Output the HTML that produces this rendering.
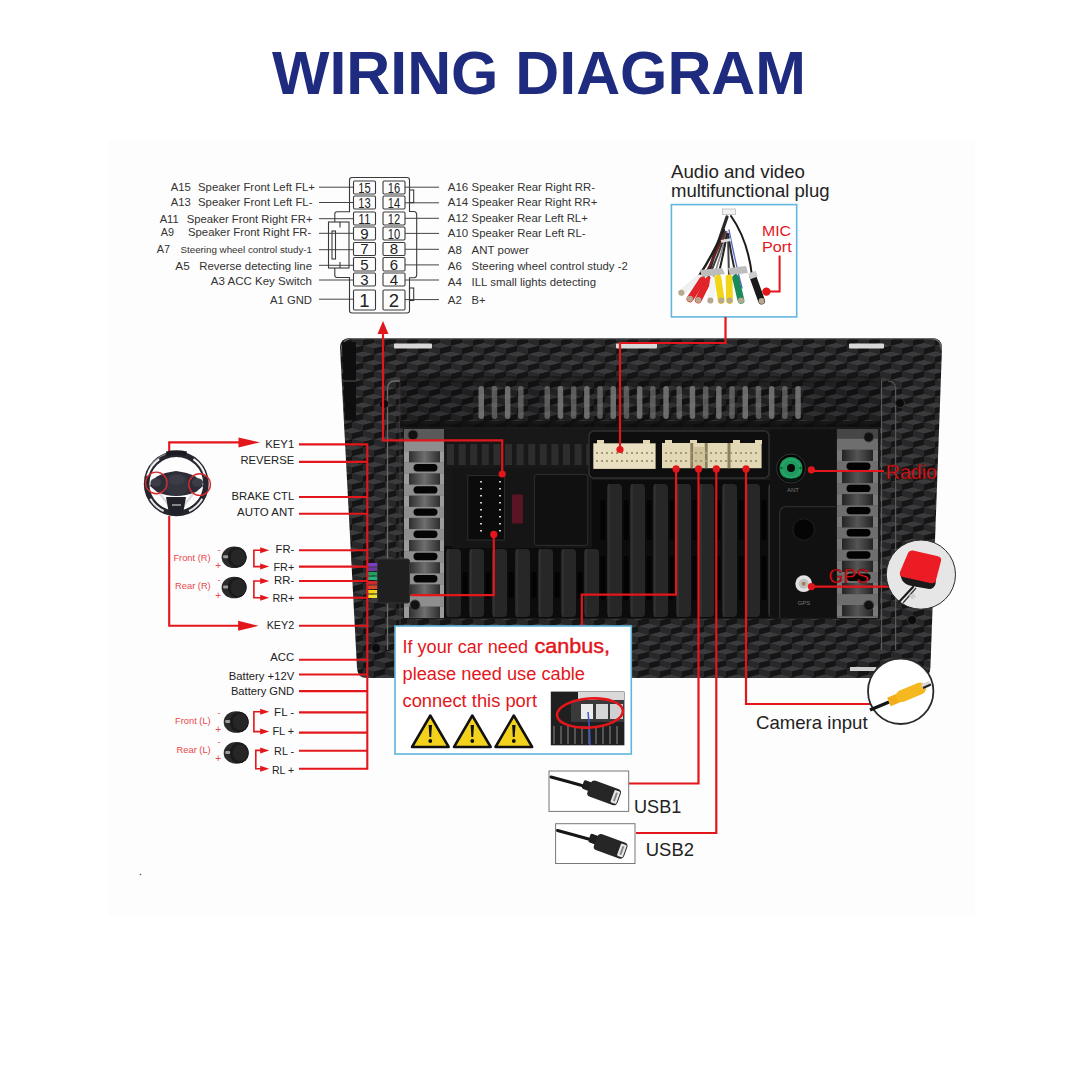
<!DOCTYPE html>
<html><head><meta charset="utf-8">
<style>
html,body{margin:0;padding:0;background:#fff;}
body{width:1080px;height:1080px;overflow:hidden;position:relative;}
svg{position:absolute;left:0;top:0;}
text{font-family:"Liberation Sans",sans-serif;}
</style></head>
<body>
<svg width="1080" height="1080" viewBox="0 0 1080 1080">
<defs>
  <pattern id="cf" x="0" y="0" width="22" height="17" patternUnits="userSpaceOnUse">
    <rect width="22" height="17" fill="#1c1c1d"/>
    <path d="M11 -5.67L22 -2.83L11 0L0 -2.83ZM11 11.33L22 14.16L11 17L0 14.16ZM0 2.83L11 5.67L0 8.5L-11 5.67ZM22 2.83L33 5.67L22 8.5L11 5.67Z" fill="#3b3b3d"/>
    <path d="M0 -2.83L11 0L11 5.67L0 2.83ZM0 14.16L11 17L11 22.67L0 19.84ZM-11 5.67L0 8.5L0 14.17L-11 11.34ZM11 5.67L22 8.5L22 14.17L11 11.34Z" fill="#28282a"/>
    <path d="M11 0L22 -2.83L22 2.83L11 5.67ZM11 17L22 14.16L22 19.84L11 22.67ZM0 8.5L11 5.67L11 11.34L0 14.17ZM22 8.5L33 5.67L33 11.34L22 14.17Z" fill="#151516"/>
  </pattern>
  <marker id="ar" viewBox="0 0 10 10" refX="10" refY="5" markerWidth="5" markerHeight="5" orient="auto" markerUnits="userSpaceOnUse">
    <path d="M0 0L10 5L0 10Z" fill="#e3161b"/>
  </marker>
</defs>
<rect x="108" y="140" width="867" height="776" fill="#fdfdfd"/>

<!-- TITLE -->
<text x="272" y="94" font-size="62" font-weight="bold" fill="#1f2b7e" textLength="534" lengthAdjust="spacingAndGlyphs">WIRING DIAGRAM</text>
<!-- PIN CONNECTOR -->
<text x="170.8" y="190.8" font-size="11.5" fill="#333" textLength="20.0" lengthAdjust="spacingAndGlyphs" >A15</text>
<text x="198" y="190.8" font-size="11.5" fill="#333" textLength="117.0" lengthAdjust="spacingAndGlyphs" >Speaker Front Left FL+</text>
<line x1="319" y1="187.2" x2="353" y2="187.2" stroke="#444" stroke-width="1"/>
<text x="170.8" y="205.5" font-size="11.5" fill="#333" textLength="20.0" lengthAdjust="spacingAndGlyphs" >A13</text>
<text x="198" y="205.5" font-size="11.5" fill="#333" textLength="114.5" lengthAdjust="spacingAndGlyphs" >Speaker Front Left FL-</text>
<line x1="319" y1="202.5" x2="353" y2="202.5" stroke="#444" stroke-width="1"/>
<text x="159.7" y="222.5" font-size="11.5" fill="#333" textLength="19.0" lengthAdjust="spacingAndGlyphs" >A11</text>
<text x="186.7" y="222.5" font-size="11.5" fill="#333" textLength="125.8" lengthAdjust="spacingAndGlyphs" >Speaker Front Right FR+</text>
<line x1="319" y1="218.7" x2="353" y2="218.7" stroke="#444" stroke-width="1"/>
<text x="160.8" y="235.8" font-size="11.5" fill="#333" textLength="13.2" lengthAdjust="spacingAndGlyphs" >A9</text>
<text x="188" y="235.8" font-size="11.5" fill="#333" textLength="123.3" lengthAdjust="spacingAndGlyphs" >Speaker Front Right FR-</text>
<line x1="319" y1="233.3" x2="353" y2="233.3" stroke="#444" stroke-width="1"/>
<text x="156.7" y="252.8" font-size="11.5" fill="#333" textLength="13.3" lengthAdjust="spacingAndGlyphs" >A7</text>
<text x="180.5" y="252.8" font-size="9.6" fill="#333" textLength="131.5" lengthAdjust="spacingAndGlyphs" >Steering wheel control study-1</text>
<line x1="319" y1="249.7" x2="353" y2="249.7" stroke="#444" stroke-width="1"/>
<text x="175.3" y="269.7" font-size="11.5" fill="#333" textLength="14.4" lengthAdjust="spacingAndGlyphs" >A5</text>
<text x="199.2" y="269.7" font-size="11.5" fill="#333" textLength="112.8" lengthAdjust="spacingAndGlyphs" >Reverse detecting line</text>
<line x1="319" y1="265.3" x2="353" y2="265.3" stroke="#444" stroke-width="1"/>
<text x="210.8" y="284.7" font-size="11.5" fill="#333" textLength="101.2" lengthAdjust="spacingAndGlyphs" >A3 ACC Key Switch</text>
<line x1="319" y1="280" x2="353" y2="280" stroke="#444" stroke-width="1"/>
<text x="270" y="304.2" font-size="11.5" fill="#333" textLength="42.0" lengthAdjust="spacingAndGlyphs" >A1 GND</text>
<line x1="319" y1="299.2" x2="353" y2="299.2" stroke="#444" stroke-width="1"/>
<text x="447.8" y="191" font-size="11.5" fill="#333" >A16</text>
<text x="471.6" y="191" font-size="11.5" fill="#333" textLength="123.4" lengthAdjust="spacingAndGlyphs" >Speaker Rear Right RR-</text>
<line x1="405" y1="187.2" x2="439" y2="187.2" stroke="#444" stroke-width="1"/>
<text x="447.8" y="205.7" font-size="11.5" fill="#333" >A14</text>
<text x="471.6" y="205.7" font-size="11.5" fill="#333" textLength="125.7" lengthAdjust="spacingAndGlyphs" >Speaker Rear Right RR+</text>
<line x1="405" y1="202.8" x2="439" y2="202.8" stroke="#444" stroke-width="1"/>
<text x="447.8" y="222.3" font-size="11.5" fill="#333" >A12</text>
<text x="471.6" y="222.3" font-size="11.5" fill="#333" textLength="116.2" lengthAdjust="spacingAndGlyphs" >Speaker Rear Left RL+</text>
<line x1="405" y1="218.3" x2="439" y2="218.3" stroke="#444" stroke-width="1"/>
<text x="447.8" y="237.2" font-size="11.5" fill="#333" >A10</text>
<text x="471.6" y="237.2" font-size="11.5" fill="#333" textLength="114.0" lengthAdjust="spacingAndGlyphs" >Speaker Rear Left RL-</text>
<line x1="405" y1="233.4" x2="439" y2="233.4" stroke="#444" stroke-width="1"/>
<text x="447.8" y="253.8" font-size="11.5" fill="#333" >A8</text>
<text x="471.6" y="253.8" font-size="11.5" fill="#333" textLength="57.3" lengthAdjust="spacingAndGlyphs" >ANT power</text>
<line x1="405" y1="249.3" x2="439" y2="249.3" stroke="#444" stroke-width="1"/>
<text x="447.8" y="270" font-size="11.5" fill="#333" >A6</text>
<text x="471.6" y="270" font-size="11.5" fill="#333" textLength="156.2" lengthAdjust="spacingAndGlyphs" >Steering wheel control study -2</text>
<line x1="405" y1="264.9" x2="439" y2="264.9" stroke="#444" stroke-width="1"/>
<text x="447.8" y="285.6" font-size="11.5" fill="#333" >A4</text>
<text x="471.6" y="285.6" font-size="11.5" fill="#333" textLength="124.4" lengthAdjust="spacingAndGlyphs" >ILL small lights detecting</text>
<line x1="405" y1="280" x2="439" y2="280" stroke="#444" stroke-width="1"/>
<text x="447.8" y="304.4" font-size="11.5" fill="#333" >A2</text>
<text x="471.6" y="304.4" font-size="11.5" fill="#333" textLength="14.0" lengthAdjust="spacingAndGlyphs" >B+</text>
<line x1="405" y1="299.6" x2="439" y2="299.6" stroke="#444" stroke-width="1"/>
<g fill="none" stroke="#3a3a3a" stroke-width="1.1">
<path d="M352 177.5 H407 Q409.5 177.5 409.5 180 V211.5 H413.5 Q416.7 211.5 416.7 215 V274.5 Q416.7 277.8 413.5 277.8 H409.5 V310.5 Q409.5 313 407 313 H352 Q349.5 313 349.5 310.5 V277.5 H337 Q334.8 277.5 334.8 275 V268"/>
<path d="M334.8 222 V214 Q334.8 211.7 337 211.7 H349.5 V180 Q349.5 177.5 352 177.5"/>
<rect x="353.5" y="181" width="22" height="13" rx="1.2"/>
<rect x="383" y="181" width="22" height="13" rx="1.2"/>
<rect x="353.5" y="196" width="22" height="13" rx="1.2"/>
<rect x="383" y="196" width="22" height="13" rx="1.2"/>
<rect x="353.5" y="212" width="22" height="13" rx="1.2"/>
<rect x="383" y="212" width="22" height="13" rx="1.2"/>
<rect x="353.5" y="227" width="22" height="13" rx="1.2"/>
<rect x="383" y="227" width="22" height="13" rx="1.2"/>
<rect x="353.5" y="242.5" width="22" height="13.0" rx="1.2"/>
<rect x="383" y="242.5" width="22" height="13.0" rx="1.2"/>
<rect x="353.5" y="257.5" width="22" height="13.5" rx="1.2"/>
<rect x="383" y="257.5" width="22" height="13.5" rx="1.2"/>
<rect x="353.5" y="273" width="22" height="13" rx="1.2"/>
<rect x="383" y="273" width="22" height="13" rx="1.2"/>
<rect x="353.5" y="290" width="22" height="20" rx="1.2"/>
<rect x="383" y="290" width="22" height="20" rx="1.2"/>
<rect x="328.5" y="222" width="20.5" height="46"/>
<rect x="332" y="231" width="3.5" height="28"/>
<path d="M340 222 V227.5 M340 262 V268"/>
<rect x="409.5" y="190" width="4.2" height="12.6"/>
<rect x="409.5" y="288" width="4.2" height="12.5"/>
</g>
<text x="358.3" y="192.9" font-size="15" fill="#222" textLength="12.4" lengthAdjust="spacingAndGlyphs">15</text>
<text x="387.8" y="192.9" font-size="15" fill="#222" textLength="12.4" lengthAdjust="spacingAndGlyphs">16</text>
<text x="358.3" y="207.9" font-size="15" fill="#222" textLength="12.4" lengthAdjust="spacingAndGlyphs">13</text>
<text x="387.8" y="207.9" font-size="15" fill="#222" textLength="12.4" lengthAdjust="spacingAndGlyphs">14</text>
<text x="358.3" y="223.9" font-size="15" fill="#222" textLength="12.4" lengthAdjust="spacingAndGlyphs">11</text>
<text x="387.8" y="223.9" font-size="15" fill="#222" textLength="12.4" lengthAdjust="spacingAndGlyphs">12</text>
<text x="364.5" y="238.9" font-size="15" fill="#222" text-anchor="middle">9</text>
<text x="387.8" y="238.9" font-size="15" fill="#222" textLength="12.4" lengthAdjust="spacingAndGlyphs">10</text>
<text x="364.5" y="254.4" font-size="15" fill="#222" text-anchor="middle">7</text>
<text x="394" y="254.4" font-size="15" fill="#222" text-anchor="middle">8</text>
<text x="364.5" y="269.6" font-size="15" fill="#222" text-anchor="middle">5</text>
<text x="394" y="269.6" font-size="15" fill="#222" text-anchor="middle">6</text>
<text x="364.5" y="284.9" font-size="15" fill="#222" text-anchor="middle">3</text>
<text x="394" y="284.9" font-size="15" fill="#222" text-anchor="middle">4</text>
<text x="364.5" y="306.7" font-size="18.5" fill="#222" text-anchor="middle">1</text>
<text x="394" y="306.7" font-size="18.5" fill="#222" text-anchor="middle">2</text>
<!-- HEAD UNIT -->
<path d="M350 338 L932 338 Q942 338 942 348 L930.4 668 Q930 678 920 678 L367 678 Q357.4 678 357 668 L340 348 Q340 338 350 338Z" fill="url(#cf)"/>
<path d="M341 352 Q341 339 352 338.7 L931 338.7 Q941.5 339 941.5 350" fill="none" stroke="#6a6a6a" stroke-width="1.2"/>
<path d="M342 342 L356 342 L356 420 L345 420Z" fill="#0e0e0f"/>
<line x1="343" y1="381" x2="356" y2="381" stroke="#555" stroke-width="1"/>
<rect x="394" y="343.5" width="38" height="5" rx="1" fill="#d8d8d8"/>
<rect x="616" y="343.5" width="41" height="5" rx="1" fill="#d8d8d8"/>
<rect x="849" y="343.5" width="35" height="5" rx="1" fill="#d8d8d8"/>
<path d="M387.5 650 V389 Q387.5 381 395 381 H400" fill="none" stroke="#6b6b6b" stroke-width="1.3"/>
<path d="M400 381 V650" fill="none" stroke="#3c3c3c" stroke-width="1"/>
<path d="M881.5 650 V381 M888 381 Q895.6 381 895.6 389 V650" fill="none" stroke="#5a5a5a" stroke-width="1.2"/>
<rect x="400" y="376" width="481" height="6" fill="#141414" opacity="0.55"/>
<rect x="400" y="381" width="481" height="46" fill="#000" opacity="0.18"/>
<rect x="478.5" y="386" width="5.5" height="33" rx="2.7" fill="#808080" opacity="0.8"/>
<rect x="491.7" y="386" width="5.5" height="33" rx="2.7" fill="#808080" opacity="0.62"/>
<rect x="504.9" y="386" width="5.5" height="33" rx="2.7" fill="#808080" opacity="0.8"/>
<rect x="518.1" y="386" width="5.5" height="33" rx="2.7" fill="#808080" opacity="0.62"/>
<rect x="544.5" y="386" width="5.5" height="33" rx="2.7" fill="#808080" opacity="0.62"/>
<rect x="557.7" y="386" width="5.5" height="33" rx="2.7" fill="#808080" opacity="0.8"/>
<rect x="570.9" y="386" width="5.5" height="33" rx="2.7" fill="#808080" opacity="0.62"/>
<rect x="584.1" y="386" width="5.5" height="33" rx="2.7" fill="#808080" opacity="0.8"/>
<rect x="597.3" y="386" width="5.5" height="33" rx="2.7" fill="#808080" opacity="0.62"/>
<rect x="610.5" y="386" width="5.5" height="33" rx="2.7" fill="#808080" opacity="0.8"/>
<rect x="623.7" y="386" width="5.5" height="33" rx="2.7" fill="#808080" opacity="0.62"/>
<rect x="636.9" y="386" width="5.5" height="33" rx="2.7" fill="#808080" opacity="0.8"/>
<rect x="650.1" y="386" width="5.5" height="33" rx="2.7" fill="#808080" opacity="0.62"/>
<rect x="663.3" y="386" width="5.5" height="33" rx="2.7" fill="#808080" opacity="0.8"/>
<rect x="676.5" y="386" width="5.5" height="33" rx="2.7" fill="#808080" opacity="0.62"/>
<rect x="689.7" y="386" width="5.5" height="33" rx="2.7" fill="#808080" opacity="0.8"/>
<rect x="702.9" y="386" width="5.5" height="33" rx="2.7" fill="#808080" opacity="0.62"/>
<rect x="716.1" y="386" width="5.5" height="33" rx="2.7" fill="#808080" opacity="0.8"/>
<rect x="729.3" y="386" width="5.5" height="33" rx="2.7" fill="#808080" opacity="0.62"/>
<rect x="742.5" y="386" width="5.5" height="33" rx="2.7" fill="#808080" opacity="0.8"/>
<rect x="755.7" y="386" width="5.5" height="33" rx="2.7" fill="#808080" opacity="0.62"/>
<rect x="768.9" y="386" width="5.5" height="33" rx="2.7" fill="#808080" opacity="0.8"/>
<rect x="782.1" y="386" width="5.5" height="33" rx="2.7" fill="#808080" opacity="0.62"/>
<rect x="795.3" y="386" width="5.5" height="33" rx="2.7" fill="#808080" opacity="0.8"/>
<rect x="400" y="421" width="481" height="7" fill="#0d0d0d" opacity="0.7"/>
<circle cx="384" cy="404" r="4.5" fill="#0a0a0a" stroke="#333" stroke-width="1"/>
<circle cx="900" cy="403" r="4.5" fill="#0a0a0a" stroke="#333" stroke-width="1"/>
<circle cx="376" cy="648" r="4.5" fill="#0a0a0a" stroke="#333" stroke-width="1"/>
<circle cx="912" cy="620" r="4.5" fill="#0a0a0a" stroke="#333" stroke-width="1"/>
<rect x="403" y="427" width="477" height="192" fill="#1a1a1a"/>
<defs><linearGradient id="cyl" x1="0" x2="1" y1="0" y2="0"><stop offset="0" stop-color="#2e2e2e"/><stop offset="0.5" stop-color="#6e6e6e"/><stop offset="1" stop-color="#2e2e2e"/></linearGradient></defs>
<g clip-path="url(#hsclip)">
<defs><clipPath id="hsclip"><rect x="400" y="429" width="480" height="189"/></clipPath></defs>
<rect x="404" y="429" width="41" height="189" fill="#5a5a5a"/>
<rect x="404" y="440.3" width="41" height="11" fill="#8e8e8e"/>
<rect x="409" y="451.3" width="31" height="11.2" fill="url(#cyl)"/>
<rect x="404" y="451.3" width="5" height="11.2" fill="#9c9c9c"/>
<rect x="440" y="451.3" width="5" height="11.2" fill="#9c9c9c"/>
<rect x="404" y="462.5" width="41" height="11" fill="#8e8e8e"/>
<rect x="409" y="473.5" width="31" height="11.2" fill="url(#cyl)"/>
<rect x="404" y="473.5" width="5" height="11.2" fill="#9c9c9c"/>
<rect x="440" y="473.5" width="5" height="11.2" fill="#9c9c9c"/>
<rect x="404" y="484.7" width="41" height="11" fill="#8e8e8e"/>
<rect x="409" y="495.7" width="31" height="11.2" fill="url(#cyl)"/>
<rect x="404" y="495.7" width="5" height="11.2" fill="#9c9c9c"/>
<rect x="440" y="495.7" width="5" height="11.2" fill="#9c9c9c"/>
<rect x="404" y="506.9" width="41" height="11" fill="#8e8e8e"/>
<rect x="409" y="517.9" width="31" height="11.2" fill="url(#cyl)"/>
<rect x="404" y="517.9" width="5" height="11.2" fill="#9c9c9c"/>
<rect x="440" y="517.9" width="5" height="11.2" fill="#9c9c9c"/>
<rect x="404" y="529.1" width="41" height="11" fill="#8e8e8e"/>
<rect x="409" y="540.1" width="31" height="11.2" fill="url(#cyl)"/>
<rect x="404" y="540.1" width="5" height="11.2" fill="#9c9c9c"/>
<rect x="440" y="540.1" width="5" height="11.2" fill="#9c9c9c"/>
<rect x="404" y="551.3" width="41" height="11" fill="#8e8e8e"/>
<rect x="409" y="562.3" width="31" height="11.2" fill="url(#cyl)"/>
<rect x="404" y="562.3" width="5" height="11.2" fill="#9c9c9c"/>
<rect x="440" y="562.3" width="5" height="11.2" fill="#9c9c9c"/>
<rect x="404" y="573.5" width="41" height="11" fill="#8e8e8e"/>
<rect x="409" y="584.5" width="31" height="11.2" fill="url(#cyl)"/>
<rect x="404" y="584.5" width="5" height="11.2" fill="#9c9c9c"/>
<rect x="440" y="584.5" width="5" height="11.2" fill="#9c9c9c"/>
<rect x="404" y="595.7" width="41" height="11" fill="#8e8e8e"/>
<rect x="409" y="606.7" width="31" height="11.2" fill="url(#cyl)"/>
<rect x="404" y="606.7" width="5" height="11.2" fill="#9c9c9c"/>
<rect x="440" y="606.7" width="5" height="11.2" fill="#9c9c9c"/>
<rect x="404" y="617.9" width="41" height="11" fill="#8e8e8e"/>
<rect x="409" y="628.9" width="31" height="11.2" fill="url(#cyl)"/>
<rect x="404" y="628.9" width="5" height="11.2" fill="#9c9c9c"/>
<rect x="440" y="628.9" width="5" height="11.2" fill="#9c9c9c"/>
<rect x="413.5" y="464.0" width="24" height="7.4" rx="3.7" fill="#050505"/>
<rect x="413.5" y="486.2" width="24" height="7.4" rx="3.7" fill="#050505"/>
<rect x="413.5" y="508.4" width="24" height="7.4" rx="3.7" fill="#050505"/>
<rect x="413.5" y="530.6" width="24" height="7.4" rx="3.7" fill="#050505"/>
<rect x="413.5" y="552.8" width="24" height="7.4" rx="3.7" fill="#050505"/>
<rect x="413.5" y="575.0" width="24" height="7.4" rx="3.7" fill="#050505"/>
<rect x="404" y="426" width="41" height="3" fill="#1a1a1a"/>
<rect x="837" y="429" width="41" height="189" fill="#5a5a5a"/>
<rect x="837" y="438.8" width="41" height="11" fill="#8e8e8e"/>
<rect x="842" y="449.8" width="31" height="11.2" fill="url(#cyl)"/>
<rect x="837" y="449.8" width="5" height="11.2" fill="#9c9c9c"/>
<rect x="873" y="449.8" width="5" height="11.2" fill="#9c9c9c"/>
<rect x="837" y="461.0" width="41" height="11" fill="#8e8e8e"/>
<rect x="842" y="472.0" width="31" height="11.2" fill="url(#cyl)"/>
<rect x="837" y="472.0" width="5" height="11.2" fill="#9c9c9c"/>
<rect x="873" y="472.0" width="5" height="11.2" fill="#9c9c9c"/>
<rect x="837" y="483.2" width="41" height="11" fill="#8e8e8e"/>
<rect x="842" y="494.2" width="31" height="11.2" fill="url(#cyl)"/>
<rect x="837" y="494.2" width="5" height="11.2" fill="#9c9c9c"/>
<rect x="873" y="494.2" width="5" height="11.2" fill="#9c9c9c"/>
<rect x="837" y="505.4" width="41" height="11" fill="#8e8e8e"/>
<rect x="842" y="516.4" width="31" height="11.2" fill="url(#cyl)"/>
<rect x="837" y="516.4" width="5" height="11.2" fill="#9c9c9c"/>
<rect x="873" y="516.4" width="5" height="11.2" fill="#9c9c9c"/>
<rect x="837" y="527.6" width="41" height="11" fill="#8e8e8e"/>
<rect x="842" y="538.6" width="31" height="11.2" fill="url(#cyl)"/>
<rect x="837" y="538.6" width="5" height="11.2" fill="#9c9c9c"/>
<rect x="873" y="538.6" width="5" height="11.2" fill="#9c9c9c"/>
<rect x="837" y="549.8" width="41" height="11" fill="#8e8e8e"/>
<rect x="842" y="560.8" width="31" height="11.2" fill="url(#cyl)"/>
<rect x="837" y="560.8" width="5" height="11.2" fill="#9c9c9c"/>
<rect x="873" y="560.8" width="5" height="11.2" fill="#9c9c9c"/>
<rect x="837" y="572.0" width="41" height="11" fill="#8e8e8e"/>
<rect x="842" y="583.0" width="31" height="11.2" fill="url(#cyl)"/>
<rect x="837" y="583.0" width="5" height="11.2" fill="#9c9c9c"/>
<rect x="873" y="583.0" width="5" height="11.2" fill="#9c9c9c"/>
<rect x="837" y="594.2" width="41" height="11" fill="#8e8e8e"/>
<rect x="842" y="605.2" width="31" height="11.2" fill="url(#cyl)"/>
<rect x="837" y="605.2" width="5" height="11.2" fill="#9c9c9c"/>
<rect x="873" y="605.2" width="5" height="11.2" fill="#9c9c9c"/>
<rect x="837" y="616.4" width="41" height="11" fill="#8e8e8e"/>
<rect x="842" y="627.4" width="31" height="11.2" fill="url(#cyl)"/>
<rect x="837" y="627.4" width="5" height="11.2" fill="#9c9c9c"/>
<rect x="873" y="627.4" width="5" height="11.2" fill="#9c9c9c"/>
<rect x="846.5" y="462.5" width="24" height="7.4" rx="3.7" fill="#050505"/>
<rect x="846.5" y="484.7" width="24" height="7.4" rx="3.7" fill="#050505"/>
<rect x="846.5" y="506.9" width="24" height="7.4" rx="3.7" fill="#050505"/>
<rect x="846.5" y="529.1" width="24" height="7.4" rx="3.7" fill="#050505"/>
<rect x="846.5" y="551.3" width="24" height="7.4" rx="3.7" fill="#050505"/>
<rect x="846.5" y="573.5" width="24" height="7.4" rx="3.7" fill="#050505"/>
<rect x="837" y="426" width="41" height="3" fill="#1a1a1a"/>
<rect x="837" y="429" width="41" height="189" fill="#000" opacity="0.22"/>
</g>
<circle cx="868.7" cy="437" r="5" fill="#111" stroke="#444"/>
<circle cx="868.7" cy="605.4" r="5" fill="#111" stroke="#444"/>
<circle cx="413" cy="435" r="5" fill="#111" stroke="#444"/>
<circle cx="415" cy="605" r="5" fill="#111" stroke="#444"/>
<rect x="444" y="429" width="393" height="189" fill="#181818"/>
<rect x="447.0" y="444" width="7" height="21" fill="#2d2d2d"/>
<rect x="458.6" y="444" width="7" height="21" fill="#2d2d2d"/>
<rect x="470.2" y="444" width="7" height="21" fill="#2d2d2d"/>
<rect x="481.8" y="444" width="7" height="21" fill="#2d2d2d"/>
<rect x="493.4" y="444" width="7" height="21" fill="#2d2d2d"/>
<rect x="505.0" y="444" width="7" height="21" fill="#2d2d2d"/>
<rect x="516.6" y="444" width="7" height="21" fill="#2d2d2d"/>
<rect x="528.2" y="444" width="7" height="21" fill="#2d2d2d"/>
<rect x="539.8" y="444" width="7" height="21" fill="#2d2d2d"/>
<rect x="551.4" y="444" width="7" height="21" fill="#2d2d2d"/>
<rect x="563.0" y="444" width="7" height="21" fill="#2d2d2d"/>
<rect x="574.6" y="444" width="7" height="21" fill="#2d2d2d"/>
<rect x="586.2" y="444" width="7" height="21" fill="#2d2d2d"/>
<rect x="597.8" y="444" width="7" height="21" fill="#2d2d2d"/>
<rect x="609.4" y="444" width="7" height="21" fill="#2d2d2d"/>
<rect x="621.0" y="444" width="7" height="21" fill="#2d2d2d"/>
<rect x="632.6" y="444" width="7" height="21" fill="#2d2d2d"/>
<rect x="644.2" y="444" width="7" height="21" fill="#2d2d2d"/>
<rect x="655.8" y="444" width="7" height="21" fill="#2d2d2d"/>
<rect x="667.4" y="444" width="7" height="21" fill="#2d2d2d"/>
<rect x="679.0" y="444" width="7" height="21" fill="#2d2d2d"/>
<rect x="690.6" y="444" width="7" height="21" fill="#2d2d2d"/>
<rect x="702.2" y="444" width="7" height="21" fill="#2d2d2d"/>
<rect x="713.8" y="444" width="7" height="21" fill="#2d2d2d"/>
<rect x="725.4" y="444" width="7" height="21" fill="#2d2d2d"/>
<rect x="737.0" y="444" width="7" height="21" fill="#2d2d2d"/>
<rect x="748.6" y="444" width="7" height="21" fill="#2d2d2d"/>
<rect x="760.2" y="444" width="7" height="21" fill="#2d2d2d"/>
<rect x="444" y="546" width="326" height="72" fill="#0c0c0c"/>
<rect x="588" y="480" width="182" height="70" fill="#0c0c0c"/>
<rect x="446.0" y="549" width="15" height="68" rx="4" fill="#272727"/>
<rect x="447.0" y="549" width="2" height="68" fill="#333" opacity="0.8"/>
<rect x="469.0" y="549" width="15" height="68" rx="4" fill="#272727"/>
<rect x="470.0" y="549" width="2" height="68" fill="#333" opacity="0.8"/>
<rect x="492.0" y="549" width="15" height="68" rx="4" fill="#272727"/>
<rect x="493.0" y="549" width="2" height="68" fill="#333" opacity="0.8"/>
<rect x="515.0" y="549" width="15" height="68" rx="4" fill="#272727"/>
<rect x="516.0" y="549" width="2" height="68" fill="#333" opacity="0.8"/>
<rect x="538.0" y="549" width="15" height="68" rx="4" fill="#272727"/>
<rect x="539.0" y="549" width="2" height="68" fill="#333" opacity="0.8"/>
<rect x="561.0" y="549" width="15" height="68" rx="4" fill="#272727"/>
<rect x="562.0" y="549" width="2" height="68" fill="#333" opacity="0.8"/>
<rect x="584.0" y="549" width="15" height="68" rx="4" fill="#272727"/>
<rect x="585.0" y="549" width="2" height="68" fill="#333" opacity="0.8"/>
<rect x="607.0" y="484" width="15" height="133" rx="4" fill="#272727"/>
<rect x="608.0" y="484" width="2" height="133" fill="#333" opacity="0.8"/>
<rect x="630.0" y="484" width="15" height="133" rx="4" fill="#272727"/>
<rect x="631.0" y="484" width="2" height="133" fill="#333" opacity="0.8"/>
<rect x="653.0" y="484" width="15" height="133" rx="4" fill="#272727"/>
<rect x="654.0" y="484" width="2" height="133" fill="#333" opacity="0.8"/>
<rect x="676.0" y="484" width="15" height="133" rx="4" fill="#272727"/>
<rect x="677.0" y="484" width="2" height="133" fill="#333" opacity="0.8"/>
<rect x="699.0" y="484" width="15" height="133" rx="4" fill="#272727"/>
<rect x="700.0" y="484" width="2" height="133" fill="#333" opacity="0.8"/>
<rect x="722.0" y="484" width="15" height="133" rx="4" fill="#272727"/>
<rect x="723.0" y="484" width="2" height="133" fill="#333" opacity="0.8"/>
<rect x="745.0" y="484" width="15" height="133" rx="4" fill="#272727"/>
<rect x="746.0" y="484" width="2" height="133" fill="#333" opacity="0.8"/>
<rect x="768.0" y="484" width="15" height="133" rx="4" fill="#272727"/>
<rect x="769.0" y="484" width="2" height="133" fill="#333" opacity="0.8"/>
<rect x="462.5" y="572" width="5" height="26" rx="2.5" fill="#030303"/>
<rect x="485.5" y="572" width="5" height="26" rx="2.5" fill="#030303"/>
<rect x="508.5" y="572" width="5" height="26" rx="2.5" fill="#030303"/>
<rect x="531.5" y="572" width="5" height="26" rx="2.5" fill="#030303"/>
<rect x="554.5" y="572" width="5" height="26" rx="2.5" fill="#030303"/>
<rect x="577.5" y="572" width="5" height="26" rx="2.5" fill="#030303"/>
<rect x="600.5" y="500" width="5" height="40" rx="2.5" fill="#030303"/>
<rect x="600.5" y="556" width="5" height="44" rx="2.5" fill="#030303"/>
<rect x="623.5" y="500" width="5" height="40" rx="2.5" fill="#030303"/>
<rect x="623.5" y="556" width="5" height="44" rx="2.5" fill="#030303"/>
<rect x="646.5" y="500" width="5" height="40" rx="2.5" fill="#030303"/>
<rect x="646.5" y="556" width="5" height="44" rx="2.5" fill="#030303"/>
<rect x="669.5" y="500" width="5" height="40" rx="2.5" fill="#030303"/>
<rect x="669.5" y="556" width="5" height="44" rx="2.5" fill="#030303"/>
<rect x="692.5" y="500" width="5" height="40" rx="2.5" fill="#030303"/>
<rect x="692.5" y="556" width="5" height="44" rx="2.5" fill="#030303"/>
<rect x="715.5" y="500" width="5" height="40" rx="2.5" fill="#030303"/>
<rect x="715.5" y="556" width="5" height="44" rx="2.5" fill="#030303"/>
<rect x="738.5" y="500" width="5" height="40" rx="2.5" fill="#030303"/>
<rect x="738.5" y="556" width="5" height="44" rx="2.5" fill="#030303"/>
<rect x="761.5" y="500" width="5" height="40" rx="2.5" fill="#030303"/>
<rect x="761.5" y="556" width="5" height="44" rx="2.5" fill="#030303"/>
<rect x="784.5" y="500" width="5" height="40" rx="2.5" fill="#030303"/>
<rect x="784.5" y="556" width="5" height="44" rx="2.5" fill="#030303"/>
<rect x="452" y="468" width="140" height="80" fill="#151515"/>
<rect x="467.8" y="475.6" width="36.6" height="64.4" fill="#0b0b0b" stroke="#2e2e2e" stroke-width="1"/>
<rect x="480" y="481" width="2" height="1.5" fill="#cfcfcf"/>
<rect x="499" y="481" width="2" height="1.5" fill="#cfcfcf"/>
<rect x="480" y="488" width="2" height="1.5" fill="#cfcfcf"/>
<rect x="499" y="488" width="2" height="1.5" fill="#cfcfcf"/>
<rect x="480" y="495" width="2" height="1.5" fill="#cfcfcf"/>
<rect x="499" y="495" width="2" height="1.5" fill="#cfcfcf"/>
<rect x="480" y="502" width="2" height="1.5" fill="#cfcfcf"/>
<rect x="499" y="502" width="2" height="1.5" fill="#cfcfcf"/>
<rect x="480" y="509" width="2" height="1.5" fill="#cfcfcf"/>
<rect x="499" y="509" width="2" height="1.5" fill="#cfcfcf"/>
<rect x="480" y="516" width="2" height="1.5" fill="#cfcfcf"/>
<rect x="499" y="516" width="2" height="1.5" fill="#cfcfcf"/>
<rect x="480" y="523" width="2" height="1.5" fill="#cfcfcf"/>
<rect x="499" y="523" width="2" height="1.5" fill="#cfcfcf"/>
<rect x="480" y="530" width="2" height="1.5" fill="#cfcfcf"/>
<rect x="499" y="530" width="2" height="1.5" fill="#cfcfcf"/>
<rect x="512" y="494.4" width="11" height="29" rx="1.5" fill="#5a1524"/>
<rect x="534.4" y="474.4" width="53.4" height="71" rx="3" fill="#101010" stroke="#2f2f2f" stroke-width="1"/>
<rect x="589" y="431" width="180" height="47" rx="5" fill="#0e0e0e" stroke="#303030" stroke-width="1.5"/>
<rect x="593.3" y="443.3" width="62.3" height="25.6" fill="#e9dfc1"/>
<rect x="597" y="440" width="7" height="4" fill="#e3d8b6"/>
<rect x="643" y="440" width="7" height="4" fill="#e3d8b6"/>
<rect x="665" y="440" width="7" height="4" fill="#e3d8b6"/>
<rect x="690" y="440" width="7" height="4" fill="#e3d8b6"/>
<rect x="733" y="440" width="7" height="4" fill="#e3d8b6"/>
<rect x="755" y="440" width="7" height="4" fill="#e3d8b6"/>
<rect x="662" y="443" width="99.6" height="25.2" fill="#e3d8b6"/>
<rect x="690.3" y="443" width="3" height="25.2" fill="#8a8060"/>
<rect x="704.7" y="443" width="3" height="25.2" fill="#8a8060"/>
<rect x="727.5" y="443" width="3" height="25.2" fill="#8a8060"/>
<rect x="693.3" y="447" width="11.4" height="21" fill="#cfc39c"/>
<rect x="596.0" y="452" width="2" height="2" fill="#a89a70"/>
<rect x="596.0" y="460" width="2" height="2" fill="#a89a70"/>
<rect x="601.0" y="452" width="2" height="2" fill="#a89a70"/>
<rect x="601.0" y="460" width="2" height="2" fill="#a89a70"/>
<rect x="606.0" y="452" width="2" height="2" fill="#a89a70"/>
<rect x="606.0" y="460" width="2" height="2" fill="#a89a70"/>
<rect x="611.0" y="452" width="2" height="2" fill="#a89a70"/>
<rect x="611.0" y="460" width="2" height="2" fill="#a89a70"/>
<rect x="616.0" y="452" width="2" height="2" fill="#a89a70"/>
<rect x="616.0" y="460" width="2" height="2" fill="#a89a70"/>
<rect x="621.0" y="452" width="2" height="2" fill="#a89a70"/>
<rect x="621.0" y="460" width="2" height="2" fill="#a89a70"/>
<rect x="626.0" y="452" width="2" height="2" fill="#a89a70"/>
<rect x="626.0" y="460" width="2" height="2" fill="#a89a70"/>
<rect x="631.0" y="452" width="2" height="2" fill="#a89a70"/>
<rect x="631.0" y="460" width="2" height="2" fill="#a89a70"/>
<rect x="636.0" y="452" width="2" height="2" fill="#a89a70"/>
<rect x="636.0" y="460" width="2" height="2" fill="#a89a70"/>
<rect x="641.0" y="452" width="2" height="2" fill="#a89a70"/>
<rect x="641.0" y="460" width="2" height="2" fill="#a89a70"/>
<rect x="646.0" y="452" width="2" height="2" fill="#a89a70"/>
<rect x="646.0" y="460" width="2" height="2" fill="#a89a70"/>
<rect x="651.0" y="452" width="2" height="2" fill="#a89a70"/>
<rect x="651.0" y="460" width="2" height="2" fill="#a89a70"/>
<rect x="665.0" y="452" width="2" height="2" fill="#a89a70"/>
<rect x="665.0" y="460" width="2" height="2" fill="#a89a70"/>
<rect x="670.0" y="452" width="2" height="2" fill="#a89a70"/>
<rect x="670.0" y="460" width="2" height="2" fill="#a89a70"/>
<rect x="675.0" y="452" width="2" height="2" fill="#a89a70"/>
<rect x="675.0" y="460" width="2" height="2" fill="#a89a70"/>
<rect x="680.0" y="452" width="2" height="2" fill="#a89a70"/>
<rect x="680.0" y="460" width="2" height="2" fill="#a89a70"/>
<rect x="685.0" y="452" width="2" height="2" fill="#a89a70"/>
<rect x="685.0" y="460" width="2" height="2" fill="#a89a70"/>
<rect x="690.0" y="452" width="2" height="2" fill="#a89a70"/>
<rect x="690.0" y="460" width="2" height="2" fill="#a89a70"/>
<rect x="695.0" y="452" width="2" height="2" fill="#a89a70"/>
<rect x="695.0" y="460" width="2" height="2" fill="#a89a70"/>
<rect x="700.0" y="452" width="2" height="2" fill="#a89a70"/>
<rect x="700.0" y="460" width="2" height="2" fill="#a89a70"/>
<rect x="705.0" y="452" width="2" height="2" fill="#a89a70"/>
<rect x="705.0" y="460" width="2" height="2" fill="#a89a70"/>
<rect x="710.0" y="452" width="2" height="2" fill="#a89a70"/>
<rect x="710.0" y="460" width="2" height="2" fill="#a89a70"/>
<rect x="715.0" y="452" width="2" height="2" fill="#a89a70"/>
<rect x="715.0" y="460" width="2" height="2" fill="#a89a70"/>
<rect x="720.0" y="452" width="2" height="2" fill="#a89a70"/>
<rect x="720.0" y="460" width="2" height="2" fill="#a89a70"/>
<rect x="725.0" y="452" width="2" height="2" fill="#a89a70"/>
<rect x="725.0" y="460" width="2" height="2" fill="#a89a70"/>
<rect x="730.0" y="452" width="2" height="2" fill="#a89a70"/>
<rect x="730.0" y="460" width="2" height="2" fill="#a89a70"/>
<rect x="735.0" y="452" width="2" height="2" fill="#a89a70"/>
<rect x="735.0" y="460" width="2" height="2" fill="#a89a70"/>
<rect x="740.0" y="452" width="2" height="2" fill="#a89a70"/>
<rect x="740.0" y="460" width="2" height="2" fill="#a89a70"/>
<rect x="745.0" y="452" width="2" height="2" fill="#a89a70"/>
<rect x="745.0" y="460" width="2" height="2" fill="#a89a70"/>
<rect x="750.0" y="452" width="2" height="2" fill="#a89a70"/>
<rect x="750.0" y="460" width="2" height="2" fill="#a89a70"/>
<rect x="755.0" y="452" width="2" height="2" fill="#a89a70"/>
<rect x="755.0" y="460" width="2" height="2" fill="#a89a70"/>
<rect x="770" y="429.6" width="66" height="188" fill="#111"/>
<path d="M779.6 618 V514 Q779.6 506.7 787 506.7 H836" fill="none" stroke="#2c2c2c" stroke-width="1.3"/>
<circle cx="791" cy="468.5" r="14.5" fill="#050505" stroke="#333" stroke-width="1"/>
<circle cx="791" cy="468.5" r="11.5" fill="#1f9a5e"/>
<circle cx="791" cy="468.5" r="9" fill="none" stroke="#2fb070" stroke-width="1"/>
<circle cx="791" cy="468" r="4" fill="#050a07"/>
<path d="M782 476 Q791 481 800 476 L799 479 Q791 484 783 479Z" fill="#071a10"/>
<circle cx="781.5" cy="468" r="1.2" fill="#062"/><circle cx="800.5" cy="468" r="1.2" fill="#062"/>
<text x="793" y="492" font-size="6" fill="#777" text-anchor="middle">ANT</text>
<circle cx="803.7" cy="529.5" r="10.8" fill="#050505" stroke="#222"/>
<circle cx="803.7" cy="583.7" r="8.4" fill="#e2e2e2"/>
<circle cx="803.7" cy="583.7" r="5" fill="#bfbfbf"/>
<circle cx="803.7" cy="583.7" r="2" fill="#a08050"/>
<text x="804" y="605" font-size="6" fill="#777" text-anchor="middle">GPS</text>
<rect x="367" y="563.0" width="11" height="3.5" fill="#7d3cc8"/>
<rect x="367" y="567.5" width="11" height="3.5" fill="#6a3aa0"/>
<rect x="367" y="572.0" width="11" height="3.5" fill="#1fa060"/>
<rect x="367" y="576.5" width="11" height="3.5" fill="#26b27a"/>
<rect x="367" y="581.0" width="11" height="3.5" fill="#d02a2a"/>
<rect x="367" y="585.5" width="11" height="3.5" fill="#e0452a"/>
<rect x="367" y="590.0" width="11" height="3.5" fill="#f2d21b"/>
<rect x="367" y="594.5" width="11" height="3.5" fill="#f0e030"/>
<rect x="377.5" y="559" width="32" height="44" rx="2" fill="#1f1f1f" stroke="#333"/>
<rect x="850" y="667" width="26" height="4" fill="#cfcfcf"/>
<rect x="565" y="666" width="10" height="3" fill="#7a5a30"/>
<!-- AUDIO VIDEO PLUG -->
<text x="671" y="178.3" font-size="17.5" fill="#222" textLength="134.0" lengthAdjust="spacingAndGlyphs" >Audio and video</text>
<text x="671" y="197.1" font-size="17.5" fill="#222" textLength="158.6" lengthAdjust="spacingAndGlyphs" >multifunctional plug</text>
<rect x="671.4" y="204.6" width="125.3" height="112.3" fill="#fff" stroke="#63b6dd" stroke-width="1.6"/>
<g fill="none" stroke-linecap="round">
<path d="M731 216 Q748 240 752 276" stroke="#1a1a1a" stroke-width="2"/>
<path d="M727 217 Q719 240 710 268" stroke="#2a2a2a" stroke-width="3.2"/>
<path d="M724 230 Q711.5 257.0 699 276" stroke="#1e1e1e" stroke-width="2.4"/>
<path d="M725 232 Q714.0 259.0 703 278" stroke="#6a2020" stroke-width="2"/>
<path d="M726 232 Q717.0 259.0 708 278" stroke="#3a3a3a" stroke-width="2"/>
<path d="M727 232 Q720.0 259.0 713 278" stroke="#888" stroke-width="1.6"/>
<path d="M727 234 Q722.5 259.0 718 276" stroke="#222" stroke-width="2"/>
<path d="M728 234 Q728.5 259.0 729 276" stroke="#444" stroke-width="2"/>
<path d="M728 234 Q732.0 259.0 736 276" stroke="#2a2a2a" stroke-width="2"/>
<path d="M729 230 Q735.5 263.0 742 288" stroke="#5566c8" stroke-width="1.3"/>
</g>
<rect x="722.5" y="209" width="13" height="5.5" fill="#f2f2f2" stroke="#bbb" stroke-width="0.8"/>
<rect x="721" y="239" width="10" height="3" fill="#ddd" transform="rotate(-10 726 240)"/>
<path d="M700 270 L722 268 L725 274 L702 277Z" fill="#bdbdbd"/>
<path d="M728 268 L746 266 L748 273 L730 275Z" fill="#bdbdbd"/>
<line x1="699" y1="278" x2="681.4" y2="292.8" stroke="#f0f0f0" stroke-width="6.8" stroke-linecap="round"/>
<circle cx="681.4" cy="292.8" r="3" fill="#b8a890"/>
<line x1="702.5" y1="280" x2="690" y2="298.8" stroke="#e0242a" stroke-width="6.8" stroke-linecap="round"/>
<circle cx="690" cy="298.8" r="3" fill="#b8a890"/>
<line x1="708.5" y1="280" x2="698.3" y2="300" stroke="#e0242a" stroke-width="6.8" stroke-linecap="round"/>
<circle cx="698.3" cy="300" r="3" fill="#b8a890"/>
<line x1="713.4" y1="280" x2="710.4" y2="300.5" stroke="#f4f4f4" stroke-width="6.8" stroke-linecap="round"/>
<circle cx="710.4" cy="300.5" r="3" fill="#b8a890"/>
<line x1="718" y1="278" x2="721.2" y2="300.5" stroke="#f2d419" stroke-width="6.8" stroke-linecap="round"/>
<circle cx="721.2" cy="300.5" r="3" fill="#b8a890"/>
<line x1="729" y1="278" x2="729.6" y2="300.5" stroke="#f2d419" stroke-width="6.8" stroke-linecap="round"/>
<circle cx="729.6" cy="300.5" r="3" fill="#b8a890"/>
<line x1="735.7" y1="278" x2="741" y2="300.5" stroke="#1a8a5a" stroke-width="6.8" stroke-linecap="round"/>
<circle cx="741" cy="300.5" r="3" fill="#b8a890"/>
<line x1="753" y1="277" x2="761.6" y2="301" stroke="#1a1a1a" stroke-width="6.8" stroke-linecap="round"/>
<circle cx="761.6" cy="301" r="3" fill="#b8a890"/>
<rect x="749" y="272" width="8" height="6" fill="#ccc" transform="rotate(-20 753 275)"/>
<circle cx="766.4" cy="291.6" r="4.2" fill="#e3161b"/>
<path d="M766.4 291.6 L779.6 291.6 L779.6 255.4" fill="none" stroke="#e3161b" stroke-width="2" stroke-linejoin="miter"/>
<text x="762" y="236.1" font-size="15.5" fill="#e3161b" textLength="29.0" lengthAdjust="spacingAndGlyphs" >MIC</text>
<text x="762" y="251.8" font-size="15.5" fill="#e3161b" textLength="29.7" lengthAdjust="spacingAndGlyphs" >Port</text>
<!-- RED WIRES ON UNIT -->
<path d="M725.5 317 L725.5 343 L620 343 L620 449.5" fill="none" stroke="#e3161b" stroke-width="2.2" stroke-linejoin="miter"/>
<circle cx="620" cy="449.5" r="3.6" fill="#e3161b"/>
<path d="M383 333 L383 440.4 L502.2 440.4 L502.2 474" fill="none" stroke="#e3161b" stroke-width="2.2" stroke-linejoin="miter"/>
<path d="M383 321 L377.5 334 L388.5 334Z" fill="#e3161b"/>
<circle cx="502.2" cy="474" r="3.6" fill="#e3161b"/>
<circle cx="493.8" cy="534.4" r="3.6" fill="#e3161b"/>
<path d="M493.8 534.4 L493.8 595.1 L411 595.1" fill="none" stroke="#e3161b" stroke-width="2.2" stroke-linejoin="miter"/>
<circle cx="676.1" cy="468.9" r="3.6" fill="#e3161b"/>
<circle cx="698.5" cy="468.9" r="3.6" fill="#e3161b"/>
<circle cx="716.3" cy="468.9" r="3.6" fill="#e3161b"/>
<circle cx="746" cy="468.9" r="3.6" fill="#e3161b"/>
<path d="M676.1 468.9 L676.1 594.6 L581.8 594.6 L581.8 627" fill="none" stroke="#e3161b" stroke-width="2.2" stroke-linejoin="miter"/>
<path d="M698.5 468.9 L698.5 783.5 L629 783.5" fill="none" stroke="#e3161b" stroke-width="2.2" stroke-linejoin="miter"/>
<path d="M716.3 468.9 L716.3 833 L636 833" fill="none" stroke="#e3161b" stroke-width="2.2" stroke-linejoin="miter"/>
<path d="M746 468.9 L746 704 L870 704" fill="none" stroke="#e3161b" stroke-width="2.2" stroke-linejoin="miter"/>
<circle cx="811.4" cy="469.8" r="3.6" fill="#e3161b"/>
<path d="M811.4 471 L884 471" fill="none" stroke="#e3161b" stroke-width="2.2" stroke-linejoin="miter"/>
<text x="885.8" y="478.5" font-size="20" fill="#e3161b" textLength="51.2" lengthAdjust="spacingAndGlyphs" stroke="#400" stroke-width="0.3">Radio</text>
<circle cx="811.4" cy="586.6" r="3.6" fill="#e3161b"/>
<path d="M811.4 586.6 L900 586.6" fill="none" stroke="#e3161b" stroke-width="2.2" stroke-linejoin="miter"/>
<text x="828.5" y="583.3" font-size="20" fill="#e3161b" textLength="40.5" lengthAdjust="spacingAndGlyphs" stroke="#400" stroke-width="0.4">GPS</text>
<!-- GPS CIRCLE -->
<circle cx="920.9" cy="574.6" r="34.6" fill="#e6e6e6" stroke="#2a2a2a" stroke-width="1"/>
<path d="M900 574 L902 580 Q905 585 912 586 L929 589 Q934 589 935.5 584 L936 579Z" fill="#1a1a1a"/>
<path d="M908 553 Q909 550 913 550.5 L937 556 Q942 557 941 561 L936 580 Q935 584 930 583 L903 577 Q899 576 900 572Z" fill="#ec1c24"/>
<path d="M913 587 L899 602" stroke="#1a1a1a" stroke-width="2.2" stroke-linecap="round"/>
<path d="M916 588 L903 603" stroke="#333" stroke-width="1.2"/>
<rect x="910" y="594" width="5" height="5" fill="#cfcfcf" transform="rotate(-30 912 596)"/>
<!-- CAMERA CIRCLE -->
<circle cx="900.7" cy="691.3" r="32.7" fill="#fff" stroke="#2a2a2a" stroke-width="1.8"/>
<path d="M870 710 L889 702" stroke="#151515" stroke-width="3.5"/>
<path d="M889 702 L903 696" stroke="#f2ae1a" stroke-width="9"/>
<path d="M902 696 L920 688.5" stroke="#f5b81e" stroke-width="12" stroke-linecap="round"/>
<path d="M922 687 L930 683" stroke="#d8d8d8" stroke-width="5"/>
<path d="M923 688 L931 684.5" stroke="#222" stroke-width="2"/>
<text x="756" y="728.6" font-size="18.2" fill="#222" textLength="111.6" lengthAdjust="spacingAndGlyphs" >Camera input</text>
<!-- USB -->
<rect x="549" y="771" width="79.7" height="40.4" fill="#fff" stroke="#777" stroke-width="1"/>
<g transform="translate(551 777)">
<path d="M0 0 Q15 4 31 8.5" stroke="#151515" stroke-width="3" fill="none" stroke-linecap="round"/>
<g transform="rotate(20 52 16)">
<rect x="30" y="10" width="9" height="9" rx="2" fill="#1e1e1e"/>
<rect x="37" y="7" width="32" height="17" rx="4" fill="#262626"/>
<rect x="62" y="9" width="6" height="13" rx="1" fill="#e8e8e8"/>
<rect x="64" y="11" width="2" height="9" fill="#888"/>
</g></g>
<text x="634" y="813" font-size="19" fill="#222" textLength="47.3" lengthAdjust="spacingAndGlyphs" >USB1</text>
<rect x="555.6" y="823.7" width="79.4" height="39.8" fill="#fff" stroke="#777" stroke-width="1"/>
<g transform="translate(557.5 830.5)">
<path d="M0 0 Q15 4 31 8.5" stroke="#151515" stroke-width="3" fill="none" stroke-linecap="round"/>
<g transform="rotate(20 52 16)">
<rect x="30" y="10" width="9" height="9" rx="2" fill="#1e1e1e"/>
<rect x="37" y="7" width="32" height="17" rx="4" fill="#262626"/>
<rect x="62" y="9" width="6" height="13" rx="1" fill="#e8e8e8"/>
<rect x="64" y="11" width="2" height="9" fill="#888"/>
</g></g>
<text x="645.8" y="855.5" font-size="19" fill="#222" textLength="48.2" lengthAdjust="spacingAndGlyphs" >USB2</text>
<!-- CANBUS BOX -->
<rect x="395" y="626" width="236.3" height="128" fill="#fff" stroke="#5fb3dc" stroke-width="1.6"/>
<text x="402.5" y="653" font-size="17.5" fill="#e3161b" textLength="125.5" lengthAdjust="spacingAndGlyphs" >If your car need</text>
<text x="534.5" y="653.3" font-size="20.5" fill="#e3161b" stroke="#e3161b" stroke-width="0.45" textLength="75.5" lengthAdjust="spacingAndGlyphs">canbus,</text>
<text x="402.5" y="680" font-size="17.5" fill="#e3161b" textLength="182.5" lengthAdjust="spacingAndGlyphs" >please need use cable</text>
<text x="402.5" y="707" font-size="17.5" fill="#e3161b" textLength="134.5" lengthAdjust="spacingAndGlyphs" >connect this port</text>
<path d="M430.3 715.5 L448.7 747 L412 747Z" fill="#f2d21b" stroke="#111" stroke-width="2.5" stroke-linejoin="round"/>
<path d="M428.6 725 L432 725 L431.2 737 L429.4 737Z" fill="#111"/>
<circle cx="430.3" cy="741" r="1.9" fill="#111"/>
<path d="M472.3 715.5 L490.7 747 L454 747Z" fill="#f2d21b" stroke="#111" stroke-width="2.5" stroke-linejoin="round"/>
<path d="M470.6 725 L474 725 L473.2 737 L471.4 737Z" fill="#111"/>
<circle cx="472.3" cy="741" r="1.9" fill="#111"/>
<path d="M513.8 715.5 L532.2 747 L495.5 747Z" fill="#f2d21b" stroke="#111" stroke-width="2.5" stroke-linejoin="round"/>
<path d="M512.1 725 L515.5 725 L514.7 737 L512.9 737Z" fill="#111"/>
<circle cx="513.8" cy="741" r="1.9" fill="#111"/>
<rect x="550.8" y="691.6" width="73.6" height="53.7" fill="#202020"/>
<rect x="578" y="692" width="46" height="8" fill="#d9d9d9"/>
<rect x="571" y="700" width="53" height="22" fill="#3a3a3a"/>
<rect x="581" y="704" width="12" height="15" fill="#ececec"/>
<rect x="596" y="704" width="12" height="15" fill="#d6d6d6"/>
<rect x="610" y="704" width="13" height="15" fill="#d0d0d0"/>
<rect x="553" y="726" width="2" height="18" fill="#555"/>
<rect x="560" y="726" width="2" height="18" fill="#555"/>
<rect x="567" y="726" width="2" height="18" fill="#555"/>
<rect x="574" y="726" width="2" height="18" fill="#555"/>
<rect x="581" y="726" width="2" height="18" fill="#555"/>
<rect x="588" y="726" width="2" height="18" fill="#555"/>
<rect x="595" y="726" width="2" height="18" fill="#555"/>
<rect x="602" y="726" width="2" height="18" fill="#555"/>
<rect x="609" y="726" width="2" height="18" fill="#555"/>
<rect x="616" y="726" width="2" height="18" fill="#555"/>
<path d="M588 712 Q590 728 590 745" stroke="#3a5ad0" stroke-width="1.5" fill="none"/>
<ellipse cx="590" cy="713" rx="33" ry="14.5" fill="none" stroke="#e3161b" stroke-width="2.6" transform="rotate(-4 590 713)"/>
<!-- LEFT WIRING -->
<text x="265.2" y="448.2" font-size="11.8" fill="#222" textLength="29.0" lengthAdjust="spacingAndGlyphs">KEY1</text>
<path d="M299 444.4 L367.3 444.4" fill="none" stroke="#e3161b" stroke-width="2.1"/>
<text x="240.4" y="464" font-size="11.8" fill="#222" textLength="53.8" lengthAdjust="spacingAndGlyphs">REVERSE</text>
<path d="M299 461.9 L367.3 461.9" fill="none" stroke="#e3161b" stroke-width="2.1"/>
<text x="231.6" y="500.4" font-size="11.8" fill="#222" textLength="62.6" lengthAdjust="spacingAndGlyphs">BRAKE CTL</text>
<path d="M299 497 L367.3 497" fill="none" stroke="#e3161b" stroke-width="2.1"/>
<text x="237" y="515.6" font-size="11.8" fill="#222" textLength="57.2" lengthAdjust="spacingAndGlyphs">AUTO ANT</text>
<path d="M299 513.7 L367.3 513.7" fill="none" stroke="#e3161b" stroke-width="2.1"/>
<text x="275.6" y="553" font-size="11.8" fill="#222" textLength="18.6" lengthAdjust="spacingAndGlyphs">FR-</text>
<path d="M299 550.2 L367.3 550.2" fill="none" stroke="#e3161b" stroke-width="2.1"/>
<text x="273.5" y="570.5" font-size="11.8" fill="#222" textLength="20.7" lengthAdjust="spacingAndGlyphs">FR+</text>
<path d="M299 566.6 L367.3 566.6" fill="none" stroke="#e3161b" stroke-width="2.1"/>
<text x="274.1" y="584.3" font-size="11.8" fill="#222" textLength="20.1" lengthAdjust="spacingAndGlyphs">RR-</text>
<path d="M299 581 L367.3 581" fill="none" stroke="#e3161b" stroke-width="2.1"/>
<text x="272.4" y="602" font-size="11.8" fill="#222" textLength="21.8" lengthAdjust="spacingAndGlyphs">RR+</text>
<path d="M299 597.7 L367.3 597.7" fill="none" stroke="#e3161b" stroke-width="2.1"/>
<text x="266.7" y="629" font-size="11.8" fill="#222" textLength="27.5" lengthAdjust="spacingAndGlyphs">KEY2</text>
<path d="M299 625.8 L367.3 625.8" fill="none" stroke="#e3161b" stroke-width="2.1"/>
<text x="270.3" y="661.3" font-size="11.8" fill="#222" textLength="23.9" lengthAdjust="spacingAndGlyphs">ACC</text>
<path d="M299 659.8 L367.3 659.8" fill="none" stroke="#e3161b" stroke-width="2.1"/>
<text x="228.8" y="679.8" font-size="11.8" fill="#222" textLength="65.4" lengthAdjust="spacingAndGlyphs">Battery +12V</text>
<path d="M299 674.5 L367.3 674.5" fill="none" stroke="#e3161b" stroke-width="2.1"/>
<text x="230.9" y="695" font-size="11.8" fill="#222" textLength="63.3" lengthAdjust="spacingAndGlyphs">Battery GND</text>
<path d="M299 691.1 L367.3 691.1" fill="none" stroke="#e3161b" stroke-width="2.1"/>
<text x="274.1" y="715.6" font-size="11.8" fill="#222" textLength="20.1" lengthAdjust="spacingAndGlyphs">FL -</text>
<path d="M299 712.4 L367.3 712.4" fill="none" stroke="#e3161b" stroke-width="2.1"/>
<text x="272.4" y="734.8" font-size="11.8" fill="#222" textLength="21.8" lengthAdjust="spacingAndGlyphs">FL +</text>
<path d="M299 732.6 L367.3 732.6" fill="none" stroke="#e3161b" stroke-width="2.1"/>
<text x="274.1" y="754.6" font-size="11.8" fill="#222" textLength="20.1" lengthAdjust="spacingAndGlyphs">RL -</text>
<path d="M299 750.7 L367.3 750.7" fill="none" stroke="#e3161b" stroke-width="2.1"/>
<text x="272" y="773.7" font-size="11.8" fill="#222" textLength="22.2" lengthAdjust="spacingAndGlyphs">RL +</text>
<path d="M299 768.8 L367.3 768.8" fill="none" stroke="#e3161b" stroke-width="2.1"/>
<path d="M367.3 443.4 L367.3 769.8" fill="none" stroke="#e3161b" stroke-width="2.1"/>
<path d="M169.2 451 L169.2 442.4 L240 442.4" fill="none" stroke="#e3161b" stroke-width="2.1"/>
<path d="M260 442.4 L238.5 437.4 L238.5 447.4Z" fill="#e3161b"/>
<path d="M169.2 516 L169.2 625.8 L240 625.8" fill="none" stroke="#e3161b" stroke-width="2.1"/>
<path d="M258.6 625.8 L238.10000000000002 620.8 L238.10000000000002 630.8Z" fill="#e3161b"/>
<path d="M261.2 550.2 L253.9 550.2 L253.9 566.6 L261.2 566.6" fill="none" stroke="#e3161b" stroke-width="1.6"/>
<path d="M269.2 550.2 L260.2 547.2 L260.2 553.2Z" fill="#e3161b"/>
<path d="M269.2 566.6 L260.2 563.6 L260.2 569.6Z" fill="#e3161b"/>
<path d="M261.2 581 L253.9 581 L253.9 597.7 L261.2 597.7" fill="none" stroke="#e3161b" stroke-width="1.6"/>
<path d="M269.2 581 L260.2 578.0 L260.2 584.0Z" fill="#e3161b"/>
<path d="M269.2 597.7 L260.2 594.7 L260.2 600.7Z" fill="#e3161b"/>
<path d="M261.2 711.8 L253.9 711.8 L253.9 731.6 L261.2 731.6" fill="none" stroke="#e3161b" stroke-width="1.6"/>
<path d="M269.2 711.8 L260.2 708.8 L260.2 714.8Z" fill="#e3161b"/>
<path d="M269.2 731.6 L260.2 728.6 L260.2 734.6Z" fill="#e3161b"/>
<path d="M261.2 750.4 L255.8 750.4 L255.8 768.8 L261.2 768.8" fill="none" stroke="#e3161b" stroke-width="1.6"/>
<path d="M269.2 750.4 L260.2 747.4 L260.2 753.4Z" fill="#e3161b"/>
<path d="M269.2 768.8 L260.2 765.8 L260.2 771.8Z" fill="#e3161b"/>
<ellipse cx="234.1" cy="557.3" rx="12.5" ry="10.8" fill="#2a2a2a"/>
<ellipse cx="237.1" cy="557.3" rx="9.5" ry="10.3" fill="#1a1a1a"/>
<ellipse cx="238.1" cy="557.3" rx="7.5" ry="8.5" fill="#262626"/>
<rect x="223.1" y="555.3" width="5" height="3" rx="1" fill="#9a9a9a"/>
<ellipse cx="234.1" cy="587.5" rx="12.5" ry="10.8" fill="#2a2a2a"/>
<ellipse cx="237.1" cy="587.5" rx="9.5" ry="10.3" fill="#1a1a1a"/>
<ellipse cx="238.1" cy="587.5" rx="7.5" ry="8.5" fill="#262626"/>
<rect x="223.1" y="585.5" width="5" height="3" rx="1" fill="#9a9a9a"/>
<ellipse cx="236.2" cy="722" rx="12.5" ry="10.8" fill="#2a2a2a"/>
<ellipse cx="239.2" cy="722" rx="9.5" ry="10.3" fill="#1a1a1a"/>
<ellipse cx="240.2" cy="722" rx="7.5" ry="8.5" fill="#262626"/>
<rect x="225.2" y="720" width="5" height="3" rx="1" fill="#9a9a9a"/>
<ellipse cx="236.2" cy="752.9" rx="12.5" ry="10.8" fill="#2a2a2a"/>
<ellipse cx="239.2" cy="752.9" rx="9.5" ry="10.3" fill="#1a1a1a"/>
<ellipse cx="240.2" cy="752.9" rx="7.5" ry="8.5" fill="#262626"/>
<rect x="225.2" y="750.9" width="5" height="3" rx="1" fill="#9a9a9a"/>
<text x="173.4" y="560.9" font-size="9.8" fill="#e8484b" textLength="37.3" lengthAdjust="spacingAndGlyphs">Front (R)</text>
<text x="217.6" y="552.5" font-size="9" fill="#e8484b">-</text>
<text x="215.3" y="569" font-size="10" fill="#e8484b">+</text>
<text x="175.1" y="589.2" font-size="9.8" fill="#e8484b" textLength="35.6" lengthAdjust="spacingAndGlyphs">Rear (R)</text>
<text x="217.6" y="582.5" font-size="9" fill="#e8484b">-</text>
<text x="215.3" y="599" font-size="10" fill="#e8484b">+</text>
<text x="175.1" y="724.1" font-size="9.8" fill="#e8484b" textLength="35.6" lengthAdjust="spacingAndGlyphs">Front (L)</text>
<text x="217.6" y="716.0" font-size="9" fill="#e8484b">-</text>
<text x="215.3" y="733" font-size="10" fill="#e8484b">+</text>
<text x="176.6" y="752.9" font-size="9.8" fill="#e8484b" textLength="34.1" lengthAdjust="spacingAndGlyphs">Rear (L)</text>
<text x="217.6" y="745.0" font-size="9" fill="#e8484b">-</text>
<text x="215.3" y="762" font-size="10" fill="#e8484b">+</text>
<g>
<circle cx="176.3" cy="483.8" r="29.7" fill="none" stroke="#26262e" stroke-width="5.6"/>
<path d="M147.3 476.0 A30 30 0 0 1 159.1 459.2" fill="none" stroke="#f4f4f4" stroke-width="2.2" opacity="1"/>
<path d="M193.5 459.2 A30 30 0 0 1 205.3 476.0" fill="none" stroke="#f4f4f4" stroke-width="2.2" opacity="1"/>
<path d="M163.6 511.0 A30 30 0 0 1 150.3 498.8" fill="none" stroke="#e6e6e6" stroke-width="2" opacity="1"/>
<path d="M202.3 498.8 A30 30 0 0 1 189.0 511.0" fill="none" stroke="#e6e6e6" stroke-width="2" opacity="1"/>
<path d="M150.5 465.7 A31.5 31.5 0 0 1 165.5 454.2" fill="none" stroke="#9a9aa0" stroke-width="1.2" opacity="0.8"/>
<path d="M166 451.5 Q176 449 187 451.5 L186 456 Q176 454 167 456Z" fill="#1a1a20"/>
<path d="M150 486 Q152 474 176 471 Q200 474 203 486 L196 492 Q186 496 176 496 Q166 496 157 492Z" fill="#2c2c36"/>
<path d="M160 494 L171 508 M193 494 L182 508" stroke="#dcdce0" stroke-width="2.4"/>
<path d="M166 497 L186 497 L183 514 L169 514Z" fill="#22222a"/>
<path d="M172 505 L181 505" stroke="#aaa" stroke-width="1.5"/>
<ellipse cx="176.7" cy="484.5" rx="12.5" ry="11" fill="#34343e"/>
<ellipse cx="176.7" cy="480" rx="8" ry="5" fill="#40404a" opacity="0.7"/>
<ellipse cx="156" cy="482.5" rx="5.5" ry="4.2" fill="#3c3c46"/>
<ellipse cx="197.5" cy="482.5" rx="5.5" ry="4.2" fill="#3c3c46"/>
<circle cx="156.3" cy="482.9" r="10.8" fill="none" stroke="#d42a30" stroke-width="1.4"/>
<circle cx="199.6" cy="484.6" r="10.8" fill="none" stroke="#d42a30" stroke-width="1.4"/>
</g>
<circle cx="140.5" cy="874.5" r="0.8" fill="#555"/>
</svg></body></html>
